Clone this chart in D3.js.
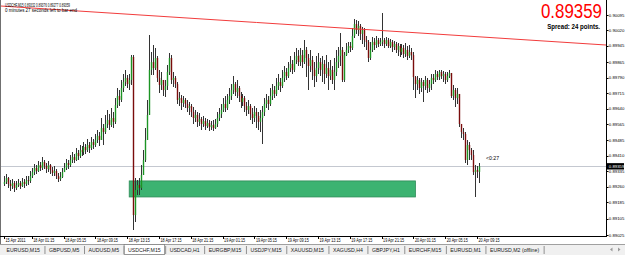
<!DOCTYPE html>
<html>
<head>
<meta charset="utf-8">
<script src="https://cdn.jsdelivr.net/npm/d3@7"></script>
<style>
  body { margin: 0; background: #fff; }
  svg { display: block; font-family: "Liberation Sans", Arial, sans-serif; }
</style>
</head>
<body>
<div id="chart"></div>
<script>
// USDCHF M15 bars, prices in points (1e-5)
const firstOpen = 89273;
const closes = [
  89283, 89302, 89273, 89263, 89278, 89254, 89268, 89278, 89263, 89283,
  89273, 89292, 89288, 89312, 89331, 89351, 89336, 89365, 89351, 89380,
  89361, 89346, 89365, 89341, 89327, 89336, 89312, 89297, 89307, 89331,
  89351, 89375, 89365, 89390, 89404, 89390, 89424, 89409, 89438, 89429,
  89453, 89438, 89463, 89448, 89477, 89463, 89487, 89507, 89487, 89545,
  89526, 89565, 89584, 89560, 89594, 89575, 89657, 89701, 89682, 89740,
  89769, 89789, 89759, 89779, 89891, 89122, 89244, 89268, 89254, 89317,
  89390, 89487, 89609, 89828, 89866, 89837, 89886, 89789, 89755, 89779,
  89730, 89750, 89818, 89886, 89779, 89789, 89759, 89682, 89691, 89667,
  89682, 89662, 89643, 89652, 89623, 89594, 89609, 89575, 89589, 89565,
  89579, 89555, 89570, 89550, 89560, 89545, 89565, 89594, 89613, 89633,
  89662, 89643, 89682, 89701, 89730, 89759, 89720, 89740, 89701, 89672,
  89691, 89652, 89633, 89652, 89613, 89594, 89623, 89604, 89575, 89594,
  89623, 89662, 89682, 89662, 89701, 89730, 89711, 89750, 89769, 89750,
  89789, 89818, 89798, 89837, 89857, 89828, 89876, 89896, 89866, 89900,
  89866, 89925, 89886, 89847, 89876, 89828, 89798, 89837, 89866, 89828,
  89857, 89808, 89837, 89798, 89828, 89779, 89818, 89866, 89896, 89925,
  89779, 89900, 89925, 89944, 89935, 89993, 90051, 90022, 90042, 90003,
  90022, 89973, 89964, 89886, 89925, 89964, 89949, 89973, 89954, 89964,
  89973, 89954, 89973, 89944, 89964, 89939, 89954, 89925, 89944, 89915,
  89935, 89905, 89925, 89896, 89915, 89900, 89793, 89759, 89779, 89740,
  89769, 89750, 89779, 89740, 89759, 89789, 89779, 89808, 89793, 89818,
  89798, 89808, 89779, 89798, 89813, 89701, 89730, 89691, 89711, 89565,
  89526, 89516, 89390, 89463, 89438, 89414, 89331, 89341, 89332, 89359
];
const highs = [
  89312, 89322, 89307, 89292, 89297, 89288, 89288, 89297, 89288, 89302,
  89297, 89312, 89312, 89336, 89351, 89370, 89365, 89385, 89380, 89404,
  89390, 89375, 89385, 89370, 89356, 89361, 89346, 89327, 89331, 89351,
  89375, 89395, 89390, 89414, 89429, 89419, 89448, 89438, 89463, 89458,
  89477, 89468, 89492, 89477, 89502, 89492, 89516, 89536, 89526, 89594,
  89565, 89609, 89633, 89613, 89643, 89623, 89691, 89740, 89730, 89779,
  89808, 89828, 89803, 89808, 89900, 89900, 89302, 89292, 89302, 89365,
  89438, 89545, 89682, 89998, 89915, 89949, 89935, 89896, 89828, 89818,
  89779, 89779, 89852, 89910, 89900, 89818, 89798, 89769, 89720, 89706,
  89701, 89691, 89682, 89672, 89662, 89648, 89633, 89623, 89618, 89599,
  89604, 89594, 89589, 89584, 89579, 89584, 89589, 89623, 89643, 89662,
  89691, 89701, 89711, 89740, 89759, 89798, 89769, 89779, 89750, 89720,
  89711, 89701, 89672, 89682, 89662, 89643, 89652, 89643, 89623, 89633,
  89652, 89691, 89711, 89701, 89740, 89759, 89750, 89789, 89808, 89789,
  89828, 89847, 89837, 89866, 89896, 89876, 89915, 89935, 89925, 89935,
  89925, 89973, 89939, 89905, 89925, 89896, 89866, 89896, 89910, 89886,
  89896, 89876, 89900, 89866, 89876, 89847, 89886, 89925, 89939, 90008,
  89939, 89915, 89959, 89964, 89964, 90032, 90076, 90071, 90066, 90051,
  90037, 90032, 89993, 89973, 89964, 89988, 89983, 89993, 89983, 89983,
  90105, 89983, 89988, 89983, 89978, 89973, 89969, 89964, 89959, 89954,
  89954, 89949, 89959, 89944, 89949, 89935, 89915, 89798, 89798, 89789,
  89789, 89779, 89798, 89789, 89779, 89808, 89808, 89828, 89823, 89828,
  89828, 89823, 89818, 89818, 89828, 89808, 89755, 89740, 89740, 89706,
  89565, 89545, 89526, 89487, 89477, 89448, 89438, 89365, 89361, 89376
];
const lows = [
  89263, 89273, 89254, 89239, 89249, 89234, 89244, 89258, 89249, 89258,
  89254, 89263, 89268, 89278, 89302, 89317, 89322, 89331, 89336, 89341,
  89346, 89327, 89331, 89322, 89312, 89312, 89297, 89283, 89288, 89302,
  89331, 89341, 89346, 89356, 89375, 89375, 89385, 89390, 89400, 89409,
  89414, 89419, 89429, 89424, 89438, 89443, 89453, 89472, 89458, 89487,
  89463, 89516, 89545, 89536, 89550, 89545, 89565, 89643, 89652, 89672,
  89720, 89750, 89740, 89730, 89755, 89049, 89088, 89220, 89220, 89244,
  89317, 89380, 89487, 89633, 89803, 89803, 89828, 89769, 89716, 89730,
  89701, 89696, 89730, 89803, 89759, 89745, 89740, 89662, 89652, 89633,
  89648, 89643, 89623, 89609, 89599, 89565, 89575, 89550, 89555, 89536,
  89550, 89536, 89545, 89531, 89536, 89531, 89541, 89550, 89579, 89594,
  89623, 89623, 89633, 89662, 89682, 89711, 89701, 89691, 89672, 89643,
  89652, 89623, 89604, 89613, 89584, 89565, 89575, 89545, 89536, 89526,
  89468, 89604, 89643, 89633, 89652, 89682, 89691, 89701, 89730, 89720,
  89740, 89769, 89779, 89789, 89818, 89808, 89818, 89857, 89847, 89847,
  89837, 89857, 89793, 89730, 89818, 89779, 89745, 89769, 89808, 89798,
  89769, 89759, 89789, 89730, 89779, 89759, 89730, 89798, 89837, 89847,
  89769, 89769, 89896, 89910, 89915, 89925, 89983, 90003, 89993, 89973,
  89954, 89939, 89925, 89866, 89876, 89915, 89925, 89935, 89939, 89944,
  89944, 89935, 89944, 89935, 89935, 89915, 89925, 89910, 89896, 89891,
  89900, 89886, 89891, 89876, 89886, 89876, 89730, 89691, 89730, 89711,
  89720, 89672, 89730, 89716, 89720, 89730, 89759, 89769, 89779, 89779,
  89784, 89769, 89759, 89769, 89789, 89691, 89682, 89648, 89662, 89550,
  89497, 89487, 89375, 89365, 89390, 89390, 89317, 89210, 89302, 89277
];

const priceTicks = [90095, 90020, 89945, 89865, 89790, 89715, 89640, 89565,
  89485, 89410, 89335, 89260, 89185, 89105, 89025];
const timeLabelBars = [0, 14, 30, 46, 62, 78, 94, 110, 126, 142, 158, 174, 190, 206, 222, 238];
const timeLabels = ["15 Apr 2011", "18 Apr 01:15", "18 Apr 05:15", "18 Apr 09:15",
  "18 Apr 13:15", "18 Apr 17:15", "18 Apr 21:15", "19 Apr 01:15", "19 Apr 05:15",
  "19 Apr 09:15", "19 Apr 13:15", "19 Apr 17:15", "19 Apr 21:15", "20 Apr 01:15",
  "20 Apr 05:15", "20 Apr 09:15"];
const tabNames = ["EURUSD,M15", "GBPUSD,M5", "AUDUSD,M5", "USDCHF,M15", "USDCAD,H1",
  "EURGBP,M15", "USDJPY,M15", "XAUUSD,M15", "XAGUSD,H4", "GBPJPY,H1", "EURCHF,M15",
  "EURUSD,M1", "EURUSD,M2 (offline)"];
const activeTab = "USDCHF,M15";

const bidPrice = 89359;
const spreadPoints = 24;
const trendBars = [-2, 303];
const trendPrices = [90139, 89949];
const zoneBars = [63, 207];
const zonePrices = [89288, 89210];
const titleText = "USDCHF,M15  0.89332 0.89376 0.89277 0.89359";
const timerText = "0 minutes 27 seconds left to bar end";
const timerShort = "<0:27";

const W = 625, H = 255;
const plotRight = 606, plotBottom = 236;

const svg = d3.select("#chart").append("svg")
  .attr("width", W).attr("height", H);

const x = d3.scaleLinear().domain([0, 239]).range([4, 479]);
const y = d3.scaleLinear().domain([89025, 90095]).range([235, 15]);
const fmt = p => (p / 100000).toFixed(5);

svg.append("defs").append("clipPath").attr("id", "plot")
  .append("rect").attr("x", 1).attr("y", 0)
  .attr("width", plotRight - 1).attr("height", plotBottom);

const plot = svg.append("g").attr("clip-path", "url(#plot)");

// green zone rectangle
plot.append("rect")
  .attr("x", x(zoneBars[0]))
  .attr("y", y(zonePrices[0]))
  .attr("width", x(zoneBars[1]) - x(zoneBars[0]))
  .attr("height", y(zonePrices[1]) - y(zonePrices[0]))
  .attr("fill", "#3cb371")
  .attr("stroke", "#2e8b57")
  .attr("stroke-width", 0.8);

// bid line
plot.append("line")
  .attr("x1", 1).attr("x2", plotRight)
  .attr("y1", Math.round(y(bidPrice)) + 0.5).attr("y2", Math.round(y(bidPrice)) + 0.5)
  .attr("stroke", "#c4c8d0").attr("stroke-width", 1);

// candles
const bars = closes.map((c, i) => {
  const o = i === 0 ? firstOpen : closes[i - 1];
  return { i, o, c, h: Math.max(highs[i], o, c), l: Math.min(lows[i], o, c) };
});

const candles = plot.append("g");
candles.selectAll("line.wick")
  .data(bars)
  .enter()
  .append("line")
  .attr("class", "wick")
  .attr("x1", d => Math.round(x(d.i)) + 0.5)
  .attr("x2", d => Math.round(x(d.i)) + 0.5)
  .attr("y1", d => y(d.h))
  .attr("y2", d => y(d.l))
  .attr("stroke", "#333")
  .attr("stroke-width", 1)
  .attr("shape-rendering", "crispEdges");

candles.selectAll("rect.body")
  .data(bars)
  .enter()
  .append("rect")
  .attr("class", "body")
  .attr("x", d => Math.round(x(d.i)) - 0.2)
  .attr("width", 1.4)
  .attr("y", d => y(Math.max(d.o, d.c)))
  .attr("height", d => Math.max(1, Math.abs(y(d.o) - y(d.c))))
  .attr("fill", d => (d.c >= d.o ? "#1c9424" : "#7a0c0c"));

// trend line
plot.append("line")
  .attr("x1", x(trendBars[0])).attr("y1", y(trendPrices[0]))
  .attr("x2", x(trendBars[1])).attr("y2", y(trendPrices[1]))
  .attr("stroke", "#f23c3c").attr("stroke-width", 1);

// frame
svg.append("line")
  .attr("x1", 0.5).attr("x2", 0.5).attr("y1", 0).attr("y2", 244)
  .attr("stroke", "#707070");
svg.append("line")
  .attr("x1", plotRight + 0.5).attr("x2", plotRight + 0.5).attr("y1", 0).attr("y2", plotBottom + 1)
  .attr("stroke", "#000");
svg.append("line")
  .attr("x1", 0).attr("x2", plotRight + 1).attr("y1", plotBottom + 0.5).attr("y2", plotBottom + 0.5)
  .attr("stroke", "#000");

// price axis
const pAxis = svg.append("g");
pAxis.selectAll("line")
  .data(priceTicks)
  .enter()
  .append("line")
  .attr("x1", plotRight).attr("x2", plotRight + 2.5)
  .attr("y1", d => Math.round(y(d)) + 0.5).attr("y2", d => Math.round(y(d)) + 0.5)
  .attr("stroke", "#000");
pAxis.selectAll("text")
  .data(priceTicks)
  .enter()
  .append("text")
  .attr("x", plotRight + 2.8)
  .attr("y", d => y(d) + 1.6)
  .attr("font-size", 4.3)
  .attr("fill", "#000")
  .text(d => fmt(d));

pAxis.append("rect")
  .attr("x", plotRight + 1).attr("y", y(bidPrice) - 3.2)
  .attr("width", W - plotRight - 2).attr("height", 6.4)
  .attr("fill", "#000");
pAxis.append("text")
  .attr("x", plotRight + 2.8).attr("y", y(bidPrice) + 1.6)
  .attr("font-size", 4.3)
  .attr("fill", "#fff")
  .text(fmt(bidPrice));

// time axis
const tAxis = svg.append("g");
tAxis.selectAll("line")
  .data(timeLabelBars)
  .enter()
  .append("line")
  .attr("x1", d => Math.round(x(d)) + 0.5).attr("x2", d => Math.round(x(d)) + 0.5)
  .attr("y1", plotBottom).attr("y2", plotBottom + 3)
  .attr("stroke", "#000");
tAxis.selectAll("text")
  .data(timeLabelBars)
  .enter()
  .append("text")
  .attr("x", d => x(d) + 1.5)
  .attr("y", 241.5)
  .attr("font-size", 4.6)
  .attr("textLength", (d, i) => (i === 0 ? 20 : 21))
  .attr("lengthAdjust", "spacingAndGlyphs")
  .attr("fill", "#000")
  .text((d, i) => timeLabels[i]);

// header texts
svg.append("text")
  .attr("x", 5).attr("y", 7)
  .attr("font-size", 4.8)
  .attr("textLength", 65).attr("lengthAdjust", "spacingAndGlyphs")
  .text(titleText);
svg.append("text")
  .attr("x", 5).attr("y", 12.2)
  .attr("font-size", 4.8)
  .attr("textLength", 72).attr("lengthAdjust", "spacingAndGlyphs")
  .text(timerText);

svg.append("text")
  .attr("transform", "translate(602,17.5) scale(1,1.2)")
  .attr("text-anchor", "end")
  .attr("font-size", 16.9)
  .attr("fill", "#ff0000")
  .text(fmt(bidPrice));
svg.append("text")
  .attr("transform", "translate(600,28.8) scale(1,1.3)")
  .attr("text-anchor", "end")
  .attr("font-size", 6.1)
  .attr("font-weight", "bold")
  .attr("fill", "#000")
  .text("Spread: " + spreadPoints + " points.");

svg.append("text")
  .attr("x", x(closes.length - 1) + 7).attr("y", y(bidPrice) - 6.5)
  .attr("font-size", 4.8)
  .attr("textLength", 13).attr("lengthAdjust", "spacingAndGlyphs")
  .text(timerShort);

// symbol tabs
const tabs = svg.append("g");
tabs.append("rect")
  .attr("x", 0).attr("y", 244).attr("width", W).attr("height", 11)
  .attr("fill", "#f0f0f0");
tabs.append("line")
  .attr("x1", 0).attr("x2", W).attr("y1", 244.5).attr("y2", 244.5)
  .attr("stroke", "#a0a0a0");

let tabX = 2;
tabNames.forEach((name) => {
  const active = name === activeTab;
  const label = tabs.append("text")
    .attr("y", 251.8)
    .attr("font-size", 5.2)
    .attr("fill", "#222")
    .text(name);
  const tw = label.node().getComputedTextLength();
  const w = tw + 9;
  if (active) {
    tabs.insert("rect", "text")
      .attr("x", tabX + 0.5).attr("y", 244.5)
      .attr("width", w - 1).attr("height", 10)
      .attr("fill", "#fff").attr("stroke", "#808080").attr("stroke-width", 0.8);
  }
  label.attr("x", tabX + w / 2).attr("text-anchor", "middle");
  tabs.append("line")
    .attr("x1", tabX + w + 0.5).attr("x2", tabX + w + 0.5)
    .attr("y1", 246).attr("y2", 254)
    .attr("stroke", "#909090");
  tabX += w;
});

tabs.append("path")
  .attr("d", "M610,249.5 L612.5,247.5 L612.5,251.5 Z")
  .attr("fill", "#9a9a9a");
tabs.append("path")
  .attr("d", "M620.5,249.5 L618,247.5 L618,251.5 Z")
  .attr("fill", "#9a9a9a");
</script>
</body>
</html>
